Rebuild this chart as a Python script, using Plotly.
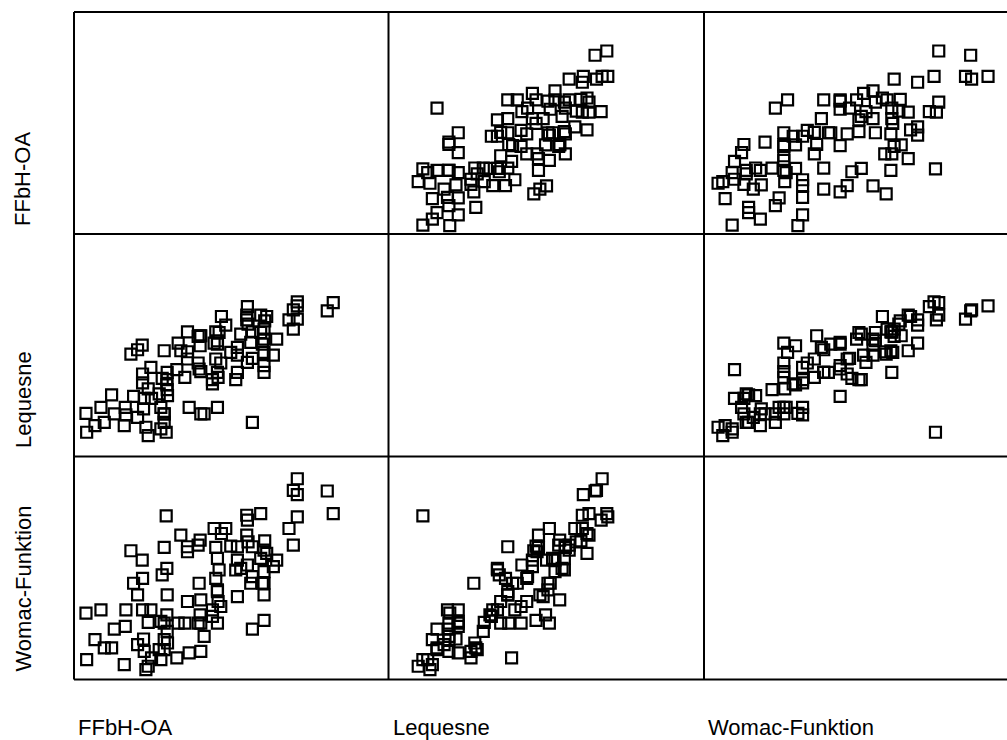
import plotly.graph_objects as go

# Variable names (diagonal / axis labels)
labels = ["FFbH-OA", "Lequesne", "Womac-Funktion"]

# Estimated observations (one entry per patient)
ffbh = [7.7, 7.5, 10.2, 12.0, 13.0,
        15.2, 16.0, 21.0, 21.8, 19.3, 19.5, 19.0,
        24.4, 23.0, 27.0, 24.5, 24.5, 26.2, 25.0, 27.2, 24.8, 23.0, 25.5, 26.2,
        31.0, 31.9, 30.4, 31.8, 31.8, 31.9, 29.5, 32.0, 30.0, 31.0, 31.0, 31.0, 30.0, 31.6,
        38.0, 35.2, 36.0, 38.0, 38.0, 34.8, 37.2, 38.5,
        41.8, 42.0, 41.2, 41.8, 41.2, 41.5, 42.0, 42.0, 43.0,
        48.2, 49.5, 46.5, 47.5, 47.0, 46.0, 47.0, 46.5, 48.0, 47.0, 47.2, 45.5, 45.5, 47.0,
        54.0, 53.0, 51.0, 53.0, 53.0, 52.5,
        56.0, 55.8, 55.8, 56.2, 57.5, 57.0, 57.5, 56.0, 57.5,
        60.0, 61.8, 61.2, 61.0, 60.0, 61.0, 64.8, 60.5, 61.0, 63.8, 61.0, 61.0,
        71.0, 71.0, 69.8, 71.0, 68.5, 69.8,
        80.0, 81.8]

lequesne = [2.43, 4.33, 3.10, 4.93, 3.43,
            6.17, 4.27, 10.27, 6.03, 4.93, 4.17, 3.10,
            11.17, 10.70, 8.93, 8.27, 7.37, 6.77, 5.83, 5.83, 4.77, 3.93, 2.93, 2.10,
            10.60, 8.43, 7.83, 7.70, 7.17, 6.70, 6.27, 6.10, 4.93, 4.27, 4.27, 3.43, 2.77, 2.43,
            12.50, 11.37, 10.60, 10.50, 9.77, 8.70, 7.93, 4.93,
            12.10, 12.10, 12.03, 11.10, 9.37, 8.77, 8.50, 4.27, 4.27,
            14.03, 13.17, 12.50, 12.43, 11.60, 11.37, 11.27, 9.77, 9.37, 8.43, 7.93, 7.70, 7.27, 4.93,
            12.27, 10.93, 10.43, 10.17, 8.43, 7.70,
            15.03, 14.17, 13.70, 13.27, 12.50, 11.43, 9.83, 9.43, 3.43,
            14.17, 14.03, 13.60, 12.77, 12.43, 11.77, 11.77, 11.27, 10.43, 10.17, 9.10, 8.43,
            15.10, 15.50, 14.70, 13.77, 13.70, 12.77,
            14.60, 15.43]

womac = [6.0, 20.0, 12.0, 21.0, 9.5,
         9.5, 15.2, 38.8, 29.0, 16.0, 21.0, 4.5,
         36.0, 25.5, 21.0, 30.5, 21.0, 17.2, 8.5, 6.5, 12.2, 10.5, 3.0, 4.0,
         39.8, 25.5, 31.5, 33.5, 19.5, 14.5, 9.0, 11.0, 17.5, 17.0, 12.0, 9.0, 6.0, 49.3,
         40.0, 17.0, 43.5, 38.5, 23.5, 6.5, 17.0, 8.0,
         42.0, 24.0, 40.5, 19.5, 17.0, 29.0, 17.0, 8.5, 13.0,
         44.0, 45.5, 39.8, 33.0, 36.5, 45.5, 27.0, 30.5, 22.0, 26.5, 23.5, 21.0, 19.0, 17.0,
         33.5, 25.0, 40.2, 36.0, 40.0, 33.0,
         48.0, 43.5, 49.5, 41.5, 40.0, 29.0, 31.0, 34.5, 15.2,
         50.0, 38.0, 41.8, 39.0, 36.5, 32.5, 36.0, 29.0, 17.8, 34.0, 29.0, 25.5,
         60.5, 49.0, 57.0, 55.7, 45.5, 40.5,
         56.8, 50.0]

# Axis ranges of each variable (shared by its row and its column)
var_ranges = [[3.9, 98.4], [0.0, 22.3], [0.0, 67.2]]

data = [ffbh, lequesne, womac]

W, H = 1007, 740
col_edges = [74, 388.5, 704, 1019.5]   # last column runs past the page edge
row_edges = [12, 234, 456.5, 679.5]

fig = go.Figure()
layout_axes = {}
k = 0
for i in range(3):          # row -> y variable
    for j in range(3):      # column -> x variable
        if i == j:
            continue
        k += 1
        xname = "x" if k == 1 else f"x{k}"
        yname = "y" if k == 1 else f"y{k}"
        fig.add_trace(go.Scatter(
            x=data[j], y=data[i], mode="markers",
            xaxis=xname, yaxis=yname,
            marker=dict(symbol="square-open", size=11, color="black",
                        line=dict(width=2.2, color="black")),
            showlegend=False, hoverinfo="skip"))
        x0 = col_edges[j]
        x1full = col_edges[j + 1]
        x1 = min(x1full, W)
        frac = (x1 - x0) / (x1full - x0)
        xr = var_ranges[j]
        xrange = [xr[0], xr[0] + (xr[1] - xr[0]) * frac]
        layout_axes["xaxis" if k == 1 else f"xaxis{k}"] = dict(
            domain=[x0 / W, x1 / W], range=xrange, visible=False,
            anchor=yname, fixedrange=True)
        layout_axes["yaxis" if k == 1 else f"yaxis{k}"] = dict(
            domain=[1 - row_edges[i + 1] / H, 1 - row_edges[i] / H],
            range=var_ranges[i], visible=False, anchor=xname, fixedrange=True)

shapes = []
for y in row_edges:
    shapes.append(dict(type="line", xref="paper", yref="paper",
                       x0=col_edges[0] / W, x1=1, y0=1 - y / H, y1=1 - y / H,
                       line=dict(color="black", width=2)))
for x in col_edges[:3]:
    shapes.append(dict(type="line", xref="paper", yref="paper",
                       x0=x / W, x1=x / W, y0=1 - row_edges[0] / H, y1=1 - row_edges[3] / H,
                       line=dict(color="black", width=2)))

annotations = []
font = dict(family="Liberation Sans, Arial, sans-serif", size=22, color="black")
for i, lab in enumerate(labels):
    annotations.append(dict(text=lab, xref="paper", yref="paper",
                            x=23 / W, y=1 - (row_edges[i + 1] - 6) / H,
                            xanchor="center", yanchor="bottom", textangle=-90,
                            showarrow=False, font=font))
    annotations.append(dict(text=lab, xref="paper", yref="paper",
                            x=(col_edges[i] + 2) / W, y=1 - 727 / H,
                            xanchor="left", yanchor="middle",
                            showarrow=False, font=font))

fig.update_layout(width=W, height=H, margin=dict(l=0, r=0, t=0, b=0),
                  paper_bgcolor="white", plot_bgcolor="white",
                  shapes=shapes, annotations=annotations, **layout_axes)

fig.write_html("out.html", config={"displayModeBar": False})
